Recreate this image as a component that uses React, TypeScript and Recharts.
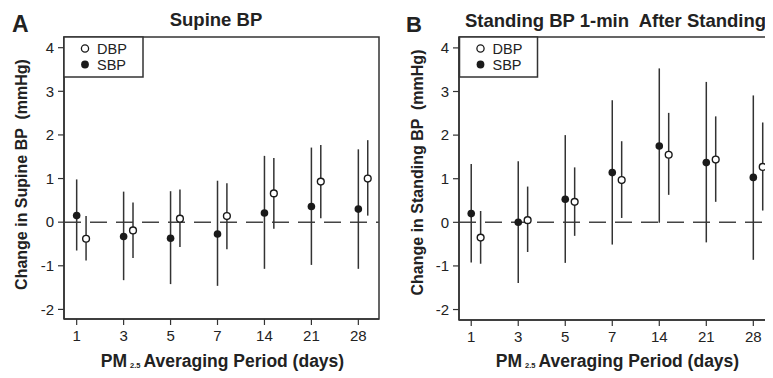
import React from 'react';
import { ScatterChart, Scatter, XAxis, YAxis, ErrorBar, ReferenceLine, ReferenceArea } from 'recharts';

const categories = ['1', '3', '5', '7', '14', '21', '28'];
const yTicks = [-2, -1, 0, 1, 2, 3, 4];

const supineSBP = [0.15, -0.33, -0.37, -0.27, 0.21, 0.36, 0.3];
const supineSBPLow = [-0.65, -1.33, -1.42, -1.46, -1.07, -0.98, -1.07];
const supineSBPHigh = [0.98, 0.7, 0.71, 0.95, 1.52, 1.71, 1.67];
const supineDBP = [-0.38, -0.19, 0.08, 0.14, 0.66, 0.93, 1.0];
const supineDBPLow = [-0.88, -0.82, -0.57, -0.62, -0.15, 0.09, 0.15];
const supineDBPHigh = [0.14, 0.45, 0.75, 0.89, 1.47, 1.77, 1.88];

const standSBP = [0.2, 0.0, 0.53, 1.14, 1.75, 1.37, 1.03];
const standSBPLow = [-0.92, -1.39, -0.93, -0.51, -0.01, -0.46, -0.86];
const standSBPHigh = [1.34, 1.4, 2.0, 2.8, 3.53, 3.22, 2.91];
const standDBP = [-0.35, 0.05, 0.47, 0.97, 1.55, 1.44, 1.27];
const standDBPLow = [-0.95, -0.68, -0.31, 0.1, 0.63, 0.47, 0.27];
const standDBPHigh = [0.26, 0.82, 1.26, 1.86, 2.51, 2.43, 2.29];

const DBP_OFFSET = 0.2;

function build(vals: number[], lows: number[], highs: number[], offset: number) {
  return categories.map((c, i) => ({
    x: i + offset,
    y: vals[i],
    err: [vals[i] - lows[i], highs[i] - vals[i]],
  }));
}

const INK = '#1a1a1a';
const LINE = '#333';
const FONT = '"Liberation Sans", Arial, Helvetica, sans-serif';

const FilledDot = (p: any) => <circle cx={p.cx} cy={p.cy} r={3.8} fill={INK} stroke="none" />;
const OpenDot = (p: any) => <circle cx={p.cx} cy={p.cy} r={3.4} fill="#fff" stroke={INK} strokeWidth={1.4} />;

const XLabel = (props: any) => {
  const vb = props.viewBox || {};
  const cx = vb.x + vb.width / 2 + 1;
  const y = 367;
  return (
    <text x={cx} y={y} textAnchor="middle" fontFamily={FONT} fontWeight="bold" fontSize={17.5} fill="#222">
      PM
      <tspan fontSize={7.5} dx={3} dy={1}>2.5</tspan>
      <tspan dx={3} dy={-1}>Averaging Period (days)</tspan>
    </text>
  );
};

type PanelProps = {
  sbp: any[];
  dbp: any[];
  xDomain: [number, number];
  yDomain: [number, number];
  margin: { top: number; right: number; bottom: number; left: number };
};

const Panel = ({ sbp, dbp, xDomain, yDomain, margin }: PanelProps) => (
  <ScatterChart width={390} height={378} margin={margin}>
    <XAxis
      type="number"
      dataKey="x"
      domain={xDomain}
      allowDataOverflow
      ticks={[0, 1, 2, 3, 4, 5, 6]}
      tickFormatter={(v: number) => categories[v]}
      height={30}
      tickSize={6}
      tickMargin={5}
      axisLine={{ stroke: LINE, strokeWidth: 1.5 }}
      tickLine={{ stroke: LINE, strokeWidth: 1.2 }}
      tick={{ fill: '#222', fontSize: 15, fontFamily: FONT }}
      label={<XLabel />}
    />
    <YAxis
      type="number"
      dataKey="y"
      domain={yDomain}
      allowDataOverflow
      ticks={yTicks}
      width={40}
      tickSize={6}
      tickMargin={4}
      axisLine={{ stroke: LINE, strokeWidth: 1.5 }}
      tickLine={{ stroke: LINE, strokeWidth: 1.2 }}
      tick={{ fill: '#222', fontSize: 15, fontFamily: FONT }}
    />
    <ReferenceArea
      x1={xDomain[0]}
      x2={xDomain[1]}
      y1={yDomain[0]}
      y2={yDomain[1]}
      fill="none"
      fillOpacity={0}
      stroke={LINE}
      strokeWidth={1.5}
      ifOverflow="visible"
    />
    <ReferenceLine y={0} stroke="#444" strokeWidth={1.5} strokeDasharray="17 9" />
    <Scatter data={sbp} dataKey="y" shape={FilledDot} isAnimationActive={false}>
      <ErrorBar dataKey="err" direction="y" width={0} stroke={LINE} strokeWidth={1.5} isAnimationActive={false} />
    </Scatter>
    <Scatter data={dbp} dataKey="y" shape={OpenDot} isAnimationActive={false}>
      <ErrorBar dataKey="err" direction="y" width={0} stroke={LINE} strokeWidth={1.5} isAnimationActive={false} />
    </Scatter>
  </ScatterChart>
);

const Legend = ({ x, w }: { x: number; w: number }) => (
  <g fontFamily={FONT} fontSize={14.5} fill="#222">
    <rect x={x} y={37} width={w} height={40} fill="#fff" stroke={LINE} strokeWidth={1.5} />
    <circle cx={x + 21} cy={48.5} r={3.6} fill="#fff" stroke={INK} strokeWidth={1.3} />
    <circle cx={x + 21} cy={64.5} r={3.9} fill={INK} />
    <text x={x + 33} y={53.5}>DBP</text>
    <text x={x + 33} y={69.5}>SBP</text>
  </g>
);

export default function App() {
  return (
    <div
      style={{
        position: 'relative',
        width: 773,
        height: 378,
        margin: '-8px 0 0 -8px',
        overflow: 'hidden',
        background: '#fff',
        fontFamily: FONT,
      }}
    >
      <div style={{ position: 'absolute', left: 0, top: 0 }}>
        <Panel
          sbp={build(supineSBP, supineSBPLow, supineSBPHigh, 0)}
          dbp={build(supineDBP, supineDBPLow, supineDBPHigh, DBP_OFFSET)}
          xDomain={[-0.27, 6.44]}
          yDomain={[-2.22, 4.245]}
          margin={{ top: 37, right: 11, bottom: 29, left: 24 }}
        />
      </div>
      <div style={{ position: 'absolute', left: 390, top: 0 }}>
        <Panel
          sbp={build(standSBP, standSBPLow, standSBPHigh, 0)}
          dbp={build(standDBP, standDBPLow, standDBPHigh, DBP_OFFSET)}
          xDomain={[-0.26, 6.44]}
          yDomain={[-2.24, 4.25]}
          margin={{ top: 37, right: 6, bottom: 28, left: 29 }}
        />
      </div>
      <svg
        width={773}
        height={378}
        style={{ position: 'absolute', left: 0, top: 0, pointerEvents: 'none' }}
      >
        <g fontFamily={FONT} fontWeight="bold" fill="#222">
          <text x={12} y={32} fontSize={23}>A</text>
          <text x={406} y={32} fontSize={22}>B</text>
          <text x={216} y={26} fontSize={18.5} textAnchor="middle">Supine BP</text>
          <text x={615.5} y={26.5} fontSize={18.5} textAnchor="middle" style={{ whiteSpace: 'pre' }}>
            Standing BP 1-min  After Standing
          </text>
          <text
            transform="translate(27,174.5) rotate(-90)"
            fontSize={16}
            textAnchor="middle"
            style={{ whiteSpace: 'pre' }}
          >
            Change in Supine BP  (mmHg)
          </text>
          <text
            transform="translate(423,172.5) rotate(-90)"
            fontSize={16}
            textAnchor="middle"
            style={{ whiteSpace: 'pre' }}
          >
            Change in Standing BP  (mmHg)
          </text>
        </g>
        <Legend x={64} w={79} />
        <Legend x={459.5} w={78} />
      </svg>
    </div>
  );
}
